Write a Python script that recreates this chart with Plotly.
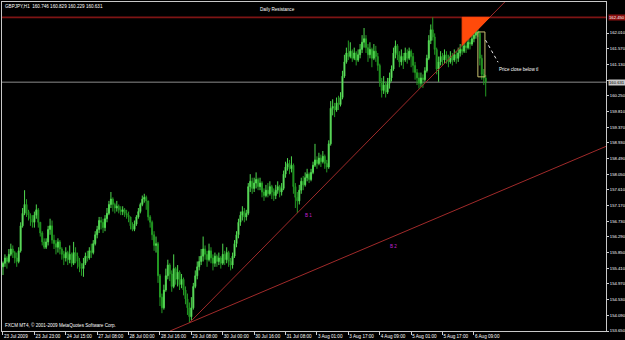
import plotly.graph_objects as go

# ---------------- data (GBPJPY, H1) ----------------
first_open = 155.45
closes = [
    155.55, 155.70, 155.60, 155.80, 155.95, 155.85, 155.70, 155.60, 155.90, 156.60,
    156.95, 157.20, 157.00, 156.90, 156.80, 156.70, 156.90, 157.05, 156.70, 156.40,
    156.15, 156.00, 156.15, 156.50, 156.60, 156.20, 156.10, 156.00, 156.15, 155.95,
    155.80, 155.70, 155.85, 155.65, 155.80, 155.55, 155.85, 155.75, 155.60, 155.45,
    155.40, 155.55, 155.75, 155.70, 155.90, 155.85, 156.10, 156.35, 156.50, 156.75,
    156.70, 156.55, 156.80, 156.95, 157.20, 157.35, 157.20, 157.10, 157.15, 157.05,
    157.00, 157.05, 156.95, 156.90, 156.85, 156.60, 156.50, 156.65, 156.85, 157.00,
    157.20, 157.35, 157.40, 157.30, 156.85, 156.70, 156.35, 156.05, 156.10, 155.20,
    154.60, 154.30, 154.80, 155.20, 155.50, 155.25, 154.90, 155.40, 155.10, 155.30,
    154.95, 155.10, 154.80, 154.55, 154.30, 154.05, 154.30, 154.90, 155.20, 155.45,
    155.60, 155.75, 155.95, 155.80, 155.65, 155.90, 155.70, 155.55, 155.75, 155.60,
    155.70, 155.55, 155.80, 155.65, 155.85, 155.60, 155.50, 155.75, 156.10, 156.35,
    156.70, 156.90, 157.00, 156.85, 156.95, 157.70, 157.85, 157.65, 157.80, 157.90,
    157.70, 157.80, 157.55, 157.45, 157.60, 157.50, 157.70, 157.55, 157.45, 157.60,
    157.70, 157.55, 157.65, 158.05, 158.25, 158.35, 158.20, 158.30, 157.70, 157.40,
    157.30, 157.60, 157.85, 157.75, 157.95, 158.05, 157.90, 158.10, 158.30, 158.45,
    158.35, 158.50, 158.40, 158.55, 158.35, 158.25, 158.90, 159.90, 159.95, 159.85,
    160.05, 160.00, 160.20, 160.80, 161.20, 161.45, 161.35, 161.50, 161.30, 161.45,
    161.25, 161.40, 161.55, 161.75, 161.85, 161.60, 161.40, 161.55, 161.30, 161.50,
    161.35, 161.10, 160.65, 160.40, 160.55, 160.35, 160.60, 160.75, 161.00, 161.45,
    161.65, 161.40, 161.20, 161.35, 161.25, 161.45, 161.30, 161.50, 161.35, 161.10,
    160.90, 160.75, 160.60, 160.75, 160.70, 160.95, 161.30, 161.80, 162.10, 161.90,
    161.55, 161.00, 161.20, 161.35, 161.25, 161.40, 161.30, 161.20, 161.35, 161.25,
    161.40, 161.30, 161.45, 161.55, 161.50, 161.65, 161.60, 161.75, 161.70, 161.85,
    161.95, 162.05, 162.00, 161.30, 160.85, 160.746, 160.631,
]
highs = [
    155.60, 155.80, 155.75, 155.95, 156.10, 156.05, 155.90, 155.85, 156.00, 156.70,
    157.10, 157.60, 157.35, 157.05, 156.95, 156.90, 157.00, 157.20, 157.10, 156.70,
    156.45, 156.25, 156.25, 156.60, 156.80, 156.75, 156.35, 156.20, 156.25, 156.20,
    156.00, 155.90, 156.00, 155.90, 156.05, 155.85, 156.15, 156.00, 155.85, 155.70,
    155.55, 155.70, 155.85, 155.90, 156.00, 156.10, 156.20, 156.45, 156.60, 156.85,
    156.85, 156.80, 156.90, 157.10, 157.30, 157.55, 157.40, 157.25, 157.30, 157.20,
    157.15, 157.15, 157.10, 157.05, 157.00, 156.85, 156.70, 156.75, 156.90, 157.10,
    157.25, 157.45, 157.50, 157.45, 157.30, 156.90, 156.75, 156.45, 156.30, 156.15,
    155.25, 154.70, 154.95, 155.40, 155.65, 155.55, 155.35, 155.80, 155.45, 155.50,
    155.35, 155.25, 155.15, 154.90, 154.70, 154.45, 154.60, 155.00, 155.35, 155.60,
    155.75, 155.95, 156.30, 156.05, 155.90, 156.10, 156.00, 155.80, 155.85, 155.80,
    155.85, 155.75, 156.10, 155.90, 156.00, 155.90, 155.70, 155.85, 156.20, 156.45,
    156.80, 157.00, 157.15, 157.10, 157.05, 157.80, 158.05, 157.95, 157.95, 158.10,
    157.95, 157.95, 157.85, 157.65, 157.75, 157.80, 157.85, 157.75, 157.65, 157.75,
    157.85, 157.75, 157.80, 158.15, 158.40, 158.50, 158.45, 158.55, 158.35, 157.80,
    157.55, 157.75, 157.95, 158.00, 158.10, 158.20, 158.10, 158.20, 158.40, 158.90,
    158.55, 158.65, 158.60, 158.70, 158.60, 158.45, 159.00, 160.10, 160.15, 160.05,
    160.20, 160.25, 160.35, 160.95, 161.40, 161.60, 161.80, 161.75, 161.55, 161.60,
    161.50, 161.55, 161.70, 161.95, 162.15, 161.95, 161.70, 161.75, 161.60, 161.70,
    161.65, 161.45, 161.15, 160.75, 160.80, 160.65, 160.75, 160.90, 161.10, 161.60,
    161.80, 161.70, 161.50, 161.55, 161.45, 161.60, 161.55, 161.60, 161.55, 161.45,
    161.20, 161.00, 160.90, 160.90, 160.85, 161.05, 161.40, 161.95, 162.25, 162.45,
    162.00, 161.60, 161.35, 161.50, 161.45, 161.55, 161.50, 161.40, 161.50, 161.45,
    161.55, 161.50, 161.60, 161.70, 161.70, 161.80, 161.75, 161.90, 161.85, 162.00,
    162.10, 162.20, 162.25, 162.05, 161.40, 161.00, 160.829,
]
lows = [
    155.22, 155.45, 155.40, 155.55, 155.75, 155.70, 155.55, 155.45, 155.55, 155.85,
    156.55, 156.90, 156.85, 156.75, 156.60, 156.55, 156.55, 156.80, 156.55, 156.30,
    156.05, 155.95, 155.95, 156.05, 156.35, 156.10, 155.95, 155.80, 155.85, 155.80,
    155.65, 155.50, 155.60, 155.50, 155.55, 155.45, 155.50, 155.55, 155.40, 155.30,
    155.20, 155.17, 155.50, 155.60, 155.65, 155.70, 155.80, 156.05, 156.25, 156.40,
    156.50, 156.40, 156.45, 156.70, 156.90, 157.10, 157.00, 156.95, 157.00, 156.95,
    156.90, 156.90, 156.85, 156.80, 156.70, 156.50, 156.45, 156.45, 156.60, 156.80,
    156.95, 157.15, 157.25, 157.05, 156.75, 156.55, 156.20, 155.90, 155.85, 155.00,
    154.35, 154.15, 154.25, 154.75, 155.10, 155.05, 154.75, 154.85, 154.95, 154.90,
    154.80, 154.85, 154.65, 154.40, 154.10, 153.88, 153.95, 154.25, 154.85, 155.10,
    155.35, 155.50, 155.60, 155.65, 155.45, 155.60, 155.55, 155.35, 155.45, 155.45,
    155.50, 155.40, 155.50, 155.50, 155.55, 155.45, 155.35, 155.40, 155.70, 156.00,
    156.25, 156.60, 156.75, 156.70, 156.75, 156.90, 157.55, 157.50, 157.55, 157.65,
    157.60, 157.60, 157.40, 157.30, 157.40, 157.40, 157.45, 157.35, 157.30, 157.35,
    157.50, 157.40, 157.45, 157.60, 157.95, 158.15, 158.05, 158.10, 157.50, 157.10,
    156.96, 157.20, 157.50, 157.60, 157.70, 157.85, 157.80, 157.85, 158.05, 158.25,
    158.20, 158.30, 158.25, 158.35, 158.20, 158.10, 158.20, 158.85, 159.70, 159.65,
    159.80, 159.85, 159.95, 160.15, 160.75, 161.15, 161.25, 161.30, 161.20, 161.25,
    161.10, 161.20, 161.30, 161.45, 161.60, 161.45, 161.20, 161.30, 161.05, 161.25,
    161.20, 160.95, 160.50, 160.20, 160.30, 160.20, 160.30, 160.45, 160.65, 160.95,
    161.30, 161.25, 161.05, 161.10, 161.00, 161.20, 161.15, 161.25, 161.05, 160.90,
    160.70, 160.55, 160.45, 160.50, 160.47, 160.65, 160.90, 161.25, 161.70, 161.80,
    161.40, 160.85, 160.64, 161.10, 161.10, 161.15, 161.15, 161.05, 161.15, 161.10,
    161.20, 161.15, 161.20, 161.35, 161.40, 161.45, 161.45, 161.55, 161.55, 161.65,
    161.75, 161.85, 161.90, 161.10, 160.70, 160.55, 160.229,
]

x_tick_idx = [0, 16, 32, 48, 64, 80, 96, 112, 128, 144, 160, 176, 192, 208, 224, 240]
x_tick_text = ["23 Jul 2009", "23 Jul 23:00", "24 Jul 15:00", "27 Jul 08:00",
               "28 Jul 00:00", "28 Jul 16:00", "29 Jul 08:00", "30 Jul 00:00",
               "30 Jul 16:00", "31 Jul 08:00", "3 Aug 01:00", "3 Aug 17:00",
               "4 Aug 09:00", "5 Aug 01:00", "5 Aug 17:00", "6 Aug 09:00"]
y_ticks = [153.650, 154.090, 154.530, 154.970, 155.410, 155.850, 156.290, 156.730,
           157.170, 157.610, 158.050, 158.490, 158.930, 159.370, 159.810, 160.250,
           160.690, 161.130, 161.570, 162.010]

resistance_level = 162.450
b1_anchor_idx = [95, 150]          # trendline B1 through these bar lows
b2_anchor = [(95, 153.88), (300, 158.66)]   # trendline B2
triangle_left_idx = 234
box_idx = [242.0, 245.6]
box_price = [162.04, 160.78]
note_line = [(245.9, 161.81), (252.3, 161.19)]
note_pos = (252.5, 161.00)
b1_label = (153.5, 156.90)
b2_label = (196.5, 156.01)
resist_text_pos = (130.5, 162.66)

# ---------------- derived ----------------
n = len(closes)
idx = list(range(n))
opens = [first_open] + closes[:-1]
highs = [max(h, o, c) for h, o, c in zip(highs, opens, closes)]
lows = [min(l, o, c) for l, o, c in zip(lows, opens, closes)]
bid = closes[-1]

y_lo, y_hi = 153.65, 162.88
x_lo, x_hi = -0.5, 307.3

fnt = "Liberation Sans, Arial, sans-serif"
fs = 4.6
fs_y = 4.2

fig = go.Figure()
fig.add_trace(go.Candlestick(
    x=idx, open=opens, high=highs, low=lows, close=closes,
    increasing=dict(line=dict(color="#4fd84f", width=1), fillcolor="#a6f5a6"),
    decreasing=dict(line=dict(color="#239a23", width=1), fillcolor="#1c7a1c"),
    whiskerwidth=0, showlegend=False, hoverinfo="skip",
))

shapes = []
shapes.append(dict(type="line", xref="paper", x0=0, x1=1, yref="y",
                   y0=resistance_level, y1=resistance_level,
                   line=dict(color="#7e1414", width=1.6), layer="below"))
shapes.append(dict(type="line", xref="paper", x0=0, x1=1, yref="y",
                   y0=bid, y1=bid, line=dict(color="#8c8c8c", width=1), layer="below"))

# B1 trendline (ray from first anchor)
xa, xb = b1_anchor_idx
ya, yb = lows[xa], lows[xb]
s1 = (yb - ya) / (xb - xa)
x_end1 = xa + (y_hi - ya) / s1
shapes.append(dict(type="line", xref="x", yref="y", x0=xa, y0=ya, x1=x_end1, y1=y_hi,
                   line=dict(color="#a02a2a", width=1)))

# B2 trendline (extended both ways)
(p0x, p0y), (p1x, p1y) = b2_anchor
s2 = (p1y - p0y) / (p1x - p0x)
x_start2 = p0x + (y_lo - p0y) / s2
shapes.append(dict(type="line", xref="x", yref="y", x0=x_start2, y0=y_lo,
                   x1=x_hi, y1=p0y + s2 * (x_hi - p0x),
                   line=dict(color="#a02a2a", width=1)))

# orange triangle between resistance, vertical and B1
tri_bottom = ya + s1 * (triangle_left_idx - xa)
tri_right = xa + (resistance_level - ya) / s1
shapes.append(dict(type="path", xref="x", yref="y",
                   path=f"M {triangle_left_idx},{resistance_level} L {tri_right},{resistance_level} "
                        f"L {triangle_left_idx},{tri_bottom} Z",
                   fillcolor="#ff4a0a", line=dict(color="#ff4a0a", width=1)))

shapes.append(dict(type="rect", xref="x", yref="y", x0=box_idx[0], x1=box_idx[1],
                   y0=box_price[1], y1=box_price[0],
                   line=dict(color="#c8c070", width=1), fillcolor="rgba(0,0,0,0)"))
shapes.append(dict(type="line", xref="x", yref="y",
                   x0=note_line[0][0], y0=note_line[0][1],
                   x1=note_line[1][0], y1=note_line[1][1],
                   line=dict(color="#e8e8e8", width=1, dash="dot")))

ann = []
def txt(x, y, s, xref="x", yref="y", color="#ffffff", xanchor="left", yanchor="middle",
        bg=None, size=fs, **kw):
    d = dict(x=x, y=y, xref=xref, yref=yref, text=s, showarrow=False,
             font=dict(family=fnt, size=size, color=color),
             xanchor=xanchor, yanchor=yanchor, borderpad=0)
    if bg:
        d["bgcolor"] = bg
    d.update(kw)
    ann.append(d)

txt(0.004, 1, "GBPJPY,H1  160.746 160.829 160.229 160.631", xref="paper", yref="paper",
    yanchor="top", yshift=-1)
txt(resist_text_pos[0], resist_text_pos[1], "Daily Resistance")
txt(note_pos[0], note_pos[1], "Price close below tl")
txt(b1_label[0], b1_label[1], "B 1", color="#c020d0")
txt(b2_label[0], b2_label[1], "B 2", color="#c020d0")
txt(0.003, 0.0, "FXCM MT4, © 2001-2009 MetaQuotes Software Corp.", xref="paper",
    yref="paper", yanchor="bottom", yshift=2)
txt(1, resistance_level, f"{resistance_level:.3f}", xref="paper", bg="#8a1010",
    color="#ffffff", xshift=2, size=fs_y)
txt(1, bid, f"{bid:.3f}", xref="paper", bg="#c8c8c8", color="#000000", xshift=2,
    size=fs_y)

# hide the tick label that sits under the bid label
y_tick_text = ["" if abs(v - bid) < 0.2 else f"{v:.3f}" for v in y_ticks]

fig.update_layout(
    width=625, height=340,
    margin=dict(l=2, r=19, t=2, b=9),
    paper_bgcolor="#000000", plot_bgcolor="#000000",
    shapes=shapes, annotations=ann, showlegend=False,
    font=dict(family=fnt, size=fs, color="#ffffff"),
)
fig.update_xaxes(
    range=[x_lo, x_hi], rangeslider=dict(visible=False),
    tickmode="array", tickvals=x_tick_idx, ticktext=x_tick_text,
    tickangle=0, ticks="outside", ticklen=3, tickcolor="#d0d0d0",
    ticklabelposition="outside right", ticklabelstandoff=0,
    tickfont=dict(family=fnt, size=fs, color="#ffffff"),
    showgrid=False, zeroline=False, showline=True, linecolor="#c8c8c8",
    linewidth=1, mirror=True, automargin=False, fixedrange=True,
)
fig.update_yaxes(
    range=[y_lo, y_hi], side="right",
    tickmode="array", tickvals=y_ticks, ticktext=y_tick_text,
    ticks="outside", ticklen=2, tickcolor="#d0d0d0", ticklabelstandoff=0,
    tickfont=dict(family=fnt, size=fs_y, color="#ffffff"),
    showgrid=False, zeroline=False, showline=True, linecolor="#c8c8c8",
    linewidth=1, mirror=True, automargin=False, fixedrange=True,
)

fig.write_html("out.html", config={"displayModeBar": False})
